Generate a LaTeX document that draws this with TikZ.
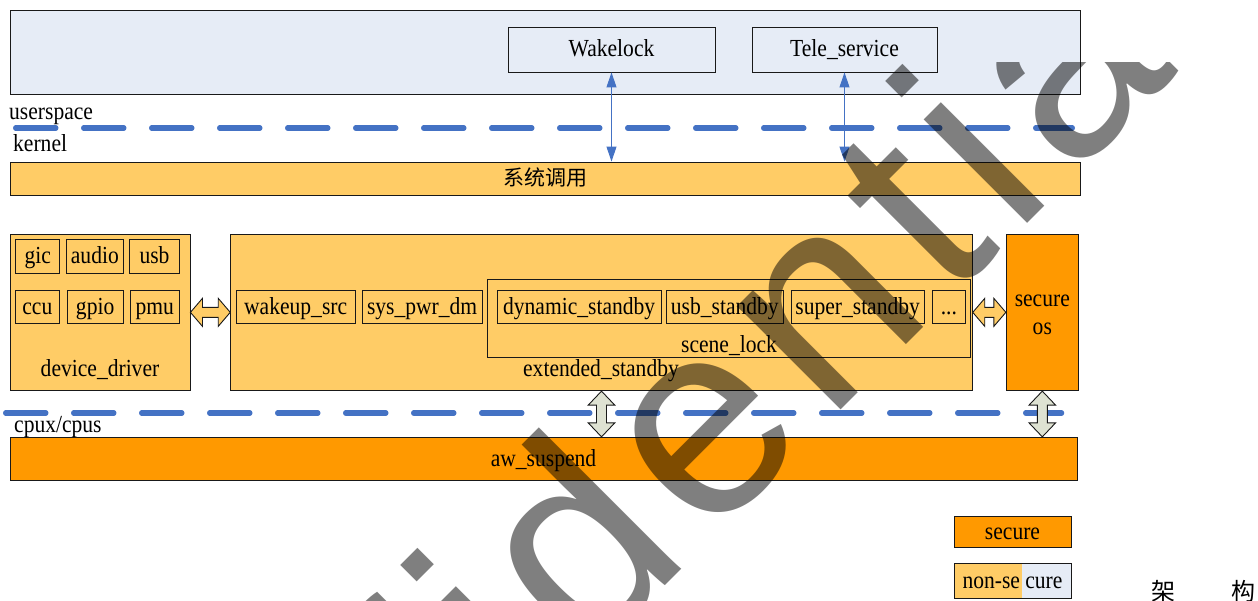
\documentclass[tikz,border=0pt]{standalone}
\usepackage{fontspec}
\setmainfont{Liberation Serif}[FakeStretch=0.88]
\newfontfamily\wmfont{Liberation Sans}[LetterSpace=6.14]
\newfontfamily\cjk{Noto Sans CJK SC}
\usetikzlibrary{arrows.meta,calc}
\definecolor{ubg}{RGB}{230,236,246}
\definecolor{kyel}{RGB}{255,204,102}
\definecolor{sorg}{RGB}{255,153,0}
\definecolor{dblue}{RGB}{68,114,196}
\definecolor{agray}{RGB}{222,226,210}
\newcommand\hblk[3]{\draw[blk, fill=#3] let \p1=(#1), \p2=(#2) in (\x1,\y1) -- (\x1+12pt,\y1+14pt) -- (\x1+12pt,\y1+5pt) -- (\x2-12pt,\y1+5pt) -- (\x2-12pt,\y1+14pt) -- (\x2,\y1) -- (\x2-12pt,\y1-14pt) -- (\x2-12pt,\y1-5pt) -- (\x1+12pt,\y1-5pt) -- (\x1+12pt,\y1-14pt) -- cycle;}
\newcommand\vblk[3]{\draw[blk, fill=#3] let \p1=(#1), \p2=(#2) in (\x1,\y1) -- (\x1+13.3pt,\y1-14pt) -- (\x1+5pt,\y1-14pt) -- (\x1+5pt,\y2+14pt) -- (\x1+13.3pt,\y2+14pt) -- (\x1,\y2) -- (\x1-13.3pt,\y2+14pt) -- (\x1-5pt,\y2+14pt) -- (\x1-5pt,\y1-14pt) -- (\x1-13.3pt,\y1-14pt) -- cycle;}
\begin{document}
\begin{tikzpicture}[x=1pt,y=-1pt,
  font=\fontsize{24.5}{28}\selectfont,
  box/.style={draw=black!90, line width=0.9pt, inner sep=0pt, text height=16pt, text depth=1pt},
  lbl/.style={inner sep=0pt},
  sepline/.style={dblue, line width=5.5pt, line cap=round, dash pattern=on 40pt off 28pt},
  sysarrow/.style={dblue, line width=1pt, {Triangle[length=15pt,width=10pt]}-{Triangle[length=15pt,width=10pt]}},
  blk/.style={draw=black!90, line width=0.9pt, line join=miter}]
\useasboundingbox (0,0) rectangle (1258,601);

% userspace
\node[box, fill=ubg, minimum width=1070pt, minimum height=83.5pt] (us) at (545,52.25) {};
\node[box, fill=ubg, minimum width=207pt, minimum height=45pt] (wl) at (611.5,49.5) {Wakelock};
\node[box, fill=ubg, minimum width=185pt, minimum height=45pt] (tele) at (844.5,49.5) {Tele\_service};
\node[lbl, anchor=base west] (lus) at (9,120) {userspace};
\coordinate (s1a) at (15.75,128);
\coordinate (s1b) at (1072.25,128);
\draw[sepline] (s1a) -- (s1b);
\node[lbl, anchor=base west] (lk) at (13,152) {kernel};
\node[box, fill=kyel, minimum width=1070pt, minimum height=33pt, font=\cjk\fontsize{21}{24}\selectfont] (sc) at (545,178.5) {系统调用};
\draw[sysarrow] (wl.south) -- (wl.south |- sc.north);
\draw[sysarrow] (tele.south) -- (tele.south |- sc.north);

% device driver
\node[box, fill=kyel, minimum width=180pt, minimum height=156.7pt] (dd) at (100,312.35) {};
\node[box, minimum width=44pt, minimum height=33.6pt] (gic) at (37.7,256.5) {gic};
\node[box, minimum width=56.3pt, minimum height=33.6pt] (audio) at (94.85,256.5) {audio};
\node[box, minimum width=49.6pt, minimum height=33.6pt] (usb) at (154.5,256.5) {usb};
\node[box, minimum width=43.3pt, minimum height=33.7pt] (ccu) at (37.35,306.85) {ccu};
\node[box, minimum width=56.3pt, minimum height=33.7pt] (gpio) at (95.15,306.85) {gpio};
\node[box, minimum width=49pt, minimum height=33.7pt] (pmu) at (154.8,306.85) {pmu};
\node[lbl, anchor=base] (ldd) at (100,377) {device\_driver};

% extended standby
\node[box, fill=kyel, minimum width=741.6pt, minimum height=156.7pt] (es) at (601.5,312.35) {};
\node[box, minimum width=119.3pt, minimum height=33.7pt] (wk) at (295.65,306.85) {wakeup\_src};
\node[box, minimum width=119.7pt, minimum height=33.7pt] (spd) at (422.15,306.85) {sys\_pwr\_dm};
\node[box, minimum width=482.3pt, minimum height=78pt] (sl) at (728.85,318) {};
\node[box, minimum width=163.7pt, minimum height=33.7pt] (dyn) at (579.15,306.85) {dynamic\_standby};
\node[box, minimum width=117pt, minimum height=33.7pt] (usbs) at (724.8,306.85) {usb\_standby};
\node[box, minimum width=133.3pt, minimum height=33.7pt] (sup) at (857.65,306.85) {super\_standby};
\node[box, minimum width=33.7pt, minimum height=33.7pt] (dots) at (948.85,306.85) {...};
\node[lbl, anchor=base] (lsl) at (729,353) {scene\_lock};
\node[lbl, anchor=base] (les) at (601,377) {extended\_standby};

% secure os
\node[box, fill=sorg, minimum width=72pt, minimum height=156.7pt] (sos) at (1042.3,312.35) {};
\node[lbl, anchor=base] (lsos1) at (1042.3,307) {secure};
\node[lbl, anchor=base] (lsos2) at (1042.3,335) {os};

\hblk{dd.east}{es.west}{kyel}
\hblk{es.east}{sos.west}{kyel}

% cpux line
\coordinate (s2a) at (5.75,413);
\coordinate (s2b) at (1061.5,413);
\draw[sepline] (s2a) -- (s2b);
\node[lbl, anchor=base west] (lcpu) at (14,432) {cpux/cpus};
\node[box, fill=sorg, minimum width=1067pt, minimum height=42.7pt] (aw) at (543.5,458.65) {aw\_suspend};

\vblk{es.south}{es.south |- aw.north}{agray}
\vblk{sos.south}{sos.south |- aw.north}{agray}

% legend
\node[box, fill=sorg, minimum width=117pt, minimum height=30.7pt] (lgs) at (1012.5,531.65) {secure};
\node[box, fill=ubg, minimum width=117pt, minimum height=35pt,
  path picture={\fill[kyel] (path picture bounding box.south west) rectangle ([xshift=67.6pt]path picture bounding box.north west);}] (lgn) at (1012.5,580.8) {non-se cure};
\node[lbl, anchor=base west, font=\cjk\fontsize{24}{26}\selectfont] (arch) at (1151,600) {架\hspace{56pt}构};

% watermark
\begin{scope}
\clip (0,63) rectangle (1258,601);
\node[inner sep=0pt, anchor=base west, rotate=45, text=black, text opacity=0.5, font=\wmfont\fontsize{277}{277}\selectfont] (wm) at (111.4,1139.2) {confidential};
\end{scope}
\end{tikzpicture}
\end{document}
